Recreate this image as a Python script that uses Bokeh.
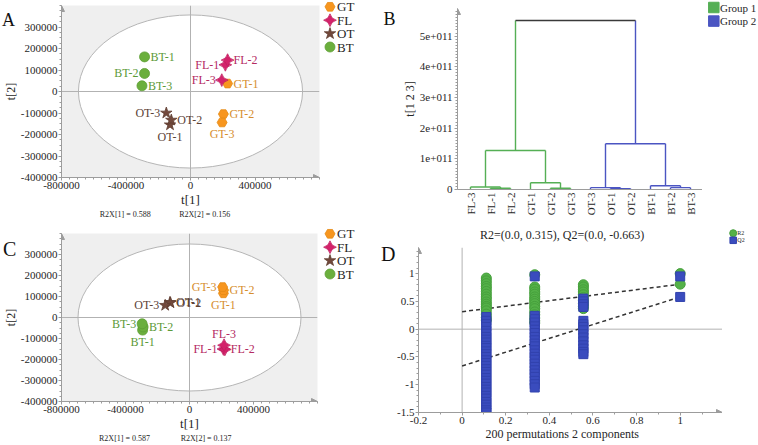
import math
from jinja2 import Template
from bokeh.plotting import figure
from bokeh.models import (Range1d, FixedTicker, Span, Arrow, NormalHead, LinearAxis,
                          CustomJSTickFormatter, ColumnDataSource)
from bokeh.core.properties import value
from bokeh.embed import file_html
from bokeh.resources import INLINE

SERIF = "Liberation Serif"
AXIS_GREY = "#9c9c9c"
ZERO_GREY = "#b2b2b2"
TEXT = "#262626"

# ---------------- PCA scores, t[1] / t[2] ----------------
groups = ["GT", "FL", "OT", "BT"]
replicates = ["1", "2", "3"]

# panel A
a_gt_t1 = [230000, 204000, 196000]
a_gt_t2 = [37000, -105000, -144000]
a_fl_t1 = [216000, 230000, 194000]
a_fl_t2 = [124000, 146000, 53000]
a_ot_t1 = [-127000, -119000, -150000]
a_ot_t2 = [-155000, -133000, -100000]
a_bt_t1 = [-285000, -285000, -301000]
a_bt_t2 = [161000, 84000, 26500]
a_r2x = [0.588, 0.156]
a_ellipse = [695000, 356000]   # Hotelling T2 (95%) semi-axes

# panel C
c_gt_t1 = [212000, 213000, 207000]
c_gt_t2 = [115000, 130000, 145000]
c_fl_t1 = [212000, 221000, 216000]
c_fl_t2 = [-150000, -152000, -132000]
c_ot_t1 = [-122000, -119000, -152000]
c_ot_t2 = [72000, 70000, 58000]
c_bt_t1 = [-293000, -290000, -296000]
c_bt_t2 = [-60000, -45000, -30000]
c_r2x = [0.587, 0.137]
c_ellipse = [697000, 350000]

# ---------------- hierarchical clustering (panel B) ----------------
cluster_1 = ["FL-3", "FL-1", "FL-2", "GT-1", "GT-2", "GT-3"]
cluster_2 = ["OT-3", "OT-1", "OT-2", "BT-1", "BT-2", "BT-3"]
# (left node, right node, linkage height, new node)
merges = [
    ("FL-1", "FL-2", 4.0e9, "fl12"),
    ("FL-3", "fl12", 8.0e9, "fl"),
    ("GT-2", "GT-3", 4.0e9, "gt23"),
    ("GT-1", "gt23", 2.2e10, "gt"),
    ("fl", "gt", 1.27e11, "g1"),
    ("OT-1", "OT-2", 3.0e9, "ot12"),
    ("OT-3", "ot12", 6.0e9, "ot"),
    ("BT-2", "BT-3", 6.0e9, "bt23"),
    ("BT-1", "bt23", 1.2e10, "bt"),
    ("ot", "bt", 1.49e11, "g2"),
    ("g1", "g2", 5.51e11, "root"),
]
cluster_names = ["Group 1", "Group 2"]

# ---------------- permutation test (panel D) ----------------
perm_x = [0.111, 0.333, 0.556]
r2_perm = [
    [0.92, 0.87, 0.82, 0.77, 0.73, 0.68, 0.63, 0.58, 0.54, 0.49, 0.45, 0.41, 0.38, 0.33, 0.27, 0.21, 0.16],
    [0.98, 0.76, 0.72, 0.67, 0.63, 0.58, 0.54, 0.5, 0.46, 0.41, 0.37, 0.31, 0.26, 0.2, 0.15, 0.11],
    [0.8, 0.76, 0.71, 0.67, 0.62, 0.57, 0.52, 0.46, 0.41, 0.37],
]
q2_perm = [
    [0.22, 0.15, 0.09, 0.04, -0.03, -0.08, -0.14, -0.19, -0.24, -0.3, -0.34, -0.4, -0.45, -0.5, -0.56,
     -0.61, -0.66, -0.72, -0.77, -0.82, -0.88, -0.93, -0.98, -1.04, -1.09, -1.14, -1.2, -1.25, -1.31,
     -1.36, -1.41, -1.46, -1.5],
    [0.95, 0.24, 0.18, 0.12, 0.05, -0.01, -0.07, -0.14, -0.2, -0.26, -0.31, -0.38, -0.44, -0.5, -0.55,
     -0.62, -0.68, -0.74, -0.8, -0.86, -0.93, -0.99, -1.05],
    [0.55, 0.5, 0.45, 0.4, 0.15, 0.09, 0.04, -0.02, -0.09, -0.15, -0.22, -0.29, -0.35, -0.41, -0.45],
]
model_x = 1.0
r2_model = [1.0, 0.81]
q2_model = [0.95, 0.58]
r2_intercept = 0.315
q2_intercept = -0.663
n_perm = 200
n_comp = 2

# ---------------- styles ----------------
MARKER = {"GT": "hex", "FL": "square_pin", "OT": "star", "BT": "circle"}
MSIZE = {"GT": 10, "FL": 9, "OT": 12, "BT": 10}
MANGLE = {"GT": 0.0, "FL": math.pi / 4, "OT": 0.0, "BT": 0.0}
FILL = {"GT": "#F7961F", "FL": "#D3226A", "OT": "#72493C", "BT": "#6BAF3D"}
EDGE = {"GT": "#E58A15", "FL": "#C01C5E", "OT": "#5F3D31", "BT": "#5E9E35"}
LABEL_COLOR = {"GT": "#D68E2E", "FL": "#B42A62", "OT": "#5B4236", "BT": "#5C9A38"}
SIDE = {"right": (6, 0, "left"), "left": (-6, 0, "right"),
        "below": (0, 12, "center"), "above": (0, -11, "center")}
a_sides = {"GT": ["right", "right", "below"], "FL": ["left", "right", "left"],
           "OT": ["below", "right", "left"], "BT": ["right", "left", "right"]}
c_sides = {"GT": ["below", "right", "left"], "FL": ["left", "right", "above"],
           "OT": ["right", "right", "left"], "BT": ["below", "right", "left"]}
GREEN_LINK = "#55AF55"
BLUE_LINK = "#4B55C2"
ROOT_LINK = "#3a3a3a"
R2_GREEN = "#54B148"
Q2_BLUE = "#3A4CBE"


def style_axis(ax, size="11px", tick_out=3, standoff=1):
    ax.axis_line_color = AXIS_GREY
    ax.major_tick_line_color = AXIS_GREY
    ax.minor_tick_line_color = AXIS_GREY
    ax.major_tick_in = 0
    ax.major_tick_out = tick_out
    ax.minor_tick_in = 0
    ax.minor_tick_out = 2
    ax.major_label_text_font = SERIF
    ax.major_label_text_font_size = size
    ax.major_label_text_color = TEXT
    ax.major_label_standoff = standoff
    ax.axis_label_text_font = SERIF
    ax.axis_label_text_font_style = "normal"
    ax.axis_label_text_color = TEXT
    ax.axis_label_standoff = 0


def text_axis(p, side, positions, texts, size, standoff=0):
    """An axis with no line or ticks whose labels carry free text at given positions."""
    ax = LinearAxis(ticker=FixedTicker(ticks=positions, minor_ticks=[]),
                    formatter=CustomJSTickFormatter(
                        args=dict(pos=positions, texts=texts),
                        code="const i = pos.indexOf(tick); return i < 0 ? '' : texts[i];"),
                    axis_line_color=None, major_tick_line_color=None, minor_tick_line_color=None,
                    major_tick_in=0, major_tick_out=0, minor_tick_in=0, minor_tick_out=0,
                    major_label_text_font=SERIF, major_label_text_font_size=f"{size}px",
                    major_label_text_color=TEXT, major_label_standoff=standoff)
    p.add_layout(ax, side)
    return ax


def make_fig(name, w, h, xr, yr, left=0, right=0, top=0, bottom=0, bg="white"):
    p = figure(name=name, width=w, height=h, x_range=Range1d(*xr), y_range=Range1d(*yr),
               output_backend="svg", toolbar_location=None,
               min_border_left=left, min_border_right=right,
               min_border_top=top, min_border_bottom=bottom)
    p.background_fill_color = bg
    p.border_fill_color = "white"
    p.outline_line_color = None
    p.grid.visible = False
    return p


def pixel_fig(name, w, h, transparent=False):
    """A bare canvas whose data units are pixels (origin top-left)."""
    p = make_fig(name, w, h, (0, w), (h, 0))
    p.xaxis.visible = False
    p.yaxis.visible = False
    if transparent:
        p.background_fill_color = None
        p.border_fill_color = None
    return p


def to_data(p, cx, cy):
    """Pixel position inside the figure (origin top-left) -> data coordinates."""
    xr, yr = p.x_range, p.y_range
    fw = p.width - p.min_border_left - p.min_border_right
    fh = p.height - p.min_border_top - p.min_border_bottom
    x = xr.start + (cx - p.min_border_left) / fw * (xr.end - xr.start)
    y = yr.end - (cy - p.min_border_top) / fh * (yr.end - yr.start)
    return x, y


def axis_arrows(p, up=True, right=True):
    xr, yr = p.x_range, p.y_range
    if up:
        p.add_layout(Arrow(end=NormalHead(size=6, fill_color=AXIS_GREY, line_color=AXIS_GREY),
                           x_start=xr.start, x_end=xr.start,
                           y_start=yr.end - 0.02 * (yr.end - yr.start), y_end=yr.end,
                           line_color=AXIS_GREY), "left")
    if right:
        p.add_layout(Arrow(end=NormalHead(size=6, fill_color=AXIS_GREY, line_color=AXIS_GREY),
                           y_start=yr.start, y_end=yr.start,
                           x_start=xr.end - 0.02 * (xr.end - xr.start), x_end=xr.end,
                           line_color=AXIS_GREY), "below")


def pca_panel(name, scores, sides, ellipse, r2x, h, left, fw, top, bottom, r2x_cx):
    p = make_fig(name, 322, h, (-800000, 800000), (-400000, 400000),
                 left, 322 - left - fw, top, bottom, bg="#EFEFEF")
    p.ellipse(x=[0], y=[0], width=[2 * ellipse[0]], height=[2 * ellipse[1]],
              fill_color="white", line_color="#B5B5B5", line_width=1, level="image")
    p.add_layout(Span(location=0, dimension="width", line_color=ZERO_GREY, level="underlay"))
    p.add_layout(Span(location=0, dimension="height", line_color=ZERO_GREY, level="underlay"))

    fmt = CustomJSTickFormatter(code="return tick.toFixed(0);")
    p.xaxis.ticker = FixedTicker(ticks=[-800000, -400000, 0, 400000],
                                 minor_ticks=[-800000 + 50000 * k for k in range(33)])
    p.yaxis.ticker = FixedTicker(ticks=[-400000 + 100000 * k for k in range(8)],
                                 minor_ticks=[-400000 + 25000 * k for k in range(33)])
    p.xaxis.formatter = fmt
    p.yaxis.formatter = fmt
    style_axis(p.xaxis[0])
    style_axis(p.yaxis[0])
    p.xaxis.axis_label = "t[1]"
    p.yaxis.axis_label = "t[2]"
    p.xaxis.axis_label_text_font_size = "13px"
    p.yaxis.axis_label_text_font_size = "12px"
    axis_arrows(p)

    # explained variance line under the t[1] label
    r2x_pos = [to_data(p, cx, 0)[0] for cx in r2x_cx]
    text_axis(p, "below", r2x_pos,
              [f"R2X[{i + 1}] = {v:.3f}" for i, v in enumerate(r2x)], 8)

    for g in groups:
        t1, t2 = scores[g]
        src = ColumnDataSource(dict(
            x=t1, y=t2, name=[f"{g}-{r}" for r in replicates],
            dx=[SIDE[s][0] for s in sides[g]], dy=[SIDE[s][1] for s in sides[g]],
            al=[SIDE[s][2] for s in sides[g]]))
        p.text(x="x", y="y", text="name", x_offset="dx", y_offset="dy", text_align="al",
               text_baseline="middle", text_font=value(SERIF), text_font_size="12px",
               text_color=LABEL_COLOR[g], source=src)
        p.scatter(x="x", y="y", marker=MARKER[g], size=MSIZE[g], angle=MANGLE[g],
                  fill_color=FILL[g], line_color=EDGE[g], line_width=0.8, source=src)
    return p


def pca_legend(name, h, y0):
    p = pixel_fig(name, 58, h)
    for i, g in enumerate(groups):
        y = y0 + 13.4 * i
        p.scatter(x=[7.5], y=[y], marker=MARKER[g], size=MSIZE[g], angle=MANGLE[g],
                  fill_color=FILL[g], line_color=EDGE[g], line_width=0.8)
        p.text(x=[14.5], y=[y], text=[g], text_baseline="middle", text_align="left",
               text_font=value(SERIF), text_font_size="13px", text_color=TEXT)
    return p


def panel_tag(name, letter, x, baseline, size):
    p = pixel_fig(name, 28, 44, transparent=True)
    p.text(x=[x], y=[baseline], text=[letter], text_align="left", text_baseline="alphabetic",
           text_font=value(SERIF), text_font_size=f"{size}px", text_color="#111111")
    return p


# ---------------- panel A ----------------
scores_a = {"GT": (a_gt_t1, a_gt_t2), "FL": (a_fl_t1, a_fl_t2),
            "OT": (a_ot_t1, a_ot_t2), "BT": (a_bt_t1, a_bt_t2)}
pa = pca_panel("panel_a", scores_a, a_sides, a_ellipse, a_r2x, 222, 56, 263, 5, 45, (121, 202))
la = pca_legend("legend_a", 222, 6.3)

# ---------------- panel C ----------------
scores_c = {"GT": (c_gt_t1, c_gt_t2), "FL": (c_fl_t1, c_fl_t2),
            "OT": (c_ot_t1, c_ot_t2), "BT": (c_bt_t1, c_bt_t2)}
pc = pca_panel("panel_c", scores_c, c_sides, c_ellipse, c_r2x, 223, 55, 262, 11, 41, (119.5, 203))
lc = pca_legend("legend_c", 223, 11.3)

# ---------------- panel B: dendrogram ----------------
leaf_order = cluster_1 + cluster_2
pb = make_fig("panel_b", 322, 222, (-0.65, 11.6), (0, 5.9e11), 77, 0, 8, 33)
node_x = {name: float(i) for i, name in enumerate(leaf_order)}
node_h = {name: 0.0 for name in leaf_order}
node_leaves = {name: {name} for name in leaf_order}


def node_color(n):
    lv = node_leaves[n]
    if lv <= set(cluster_1):
        return GREEN_LINK
    if lv <= set(cluster_2):
        return BLUE_LINK
    return ROOT_LINK


seg = dict(x0=[], y0=[], x1=[], y1=[], c=[])


def add_seg(x0, y0, x1, y1, c):
    seg["x0"].append(x0); seg["y0"].append(y0)
    seg["x1"].append(x1); seg["y1"].append(y1); seg["c"].append(c)


for a, b, h, n in merges:
    node_x[n] = (node_x[a] + node_x[b]) / 2
    node_h[n] = h
    node_leaves[n] = node_leaves[a] | node_leaves[b]
    add_seg(node_x[a], node_h[a], node_x[a], h, node_color(a))
    add_seg(node_x[b], node_h[b], node_x[b], h, node_color(b))
    add_seg(node_x[a], h, node_x[b], h, node_color(n))

pb.segment(x0="x0", y0="y0", x1="x1", y1="y1", line_color="c", line_width=1.4,
           source=ColumnDataSource(seg))

pb.xaxis.ticker = FixedTicker(ticks=list(range(len(leaf_order))), minor_ticks=[])
pb.xaxis.formatter = CustomJSTickFormatter(args=dict(names=leaf_order),
                                           code="return names[Math.round(tick)];")
pb.xaxis.major_label_orientation = math.pi / 2
pb.yaxis.ticker = FixedTicker(ticks=[k * 1e11 for k in range(6)],
                              minor_ticks=[k * 1e10 for k in range(59)])
pb.yaxis.formatter = CustomJSTickFormatter(
    code="return tick == 0 ? '0' : (tick / 1e11).toFixed(0) + 'e+011';")
style_axis(pb.xaxis[0])
style_axis(pb.yaxis[0], standoff=2)
pb.xaxis.major_tick_out = 0
pb.xaxis.major_label_standoff = 3
pb.yaxis.axis_label = "t[1 2 3]"
pb.yaxis.axis_label_text_font_size = "12px"
axis_arrows(pb, up=True, right=False)

lb = pixel_fig("legend_b", 56, 222)
for i, (nm, col) in enumerate(zip(cluster_names, [GREEN_LINK, BLUE_LINK])):
    y = 7.0 + 13.6 * i
    lb.scatter(x=[11.3], y=[y], marker="square", size=10.5, fill_color=col, line_color=col)
    lb.text(x=[17.5], y=[y], text=[nm], text_baseline="middle", text_align="left",
            text_font=value(SERIF), text_font_size="11px", text_color=TEXT)

# ---------------- panel D: permutation test ----------------
pd_ = make_fig("panel_d", 342, 223, (-0.2, 1.194), (-1.5, 1.47), 38, 0, 25, 33)
pd_.add_layout(Span(location=0, dimension="width", line_color=ZERO_GREY, level="underlay"))
pd_.add_layout(Span(location=0, dimension="height", line_color=ZERO_GREY, level="underlay"))

rx, ry, qx, qy = [], [], [], []
for x, rv, qv in zip(perm_x, r2_perm, q2_perm):
    rx += [x] * len(rv); ry += rv
    qx += [x] * len(qv); qy += qv
rx += [model_x] * len(r2_model); ry += r2_model
qx += [model_x] * len(q2_model); qy += q2_model

pd_.line(x=[0, model_x], y=[r2_intercept, r2_model[-1]], line_color="#333333",
         line_width=1.5, line_dash="4 3")
pd_.line(x=[0, model_x], y=[q2_intercept, q2_model[-1]], line_color="#333333",
         line_width=1.5, line_dash="4 3")
pd_.scatter(x=rx, y=ry, marker="circle", size=10, fill_color=R2_GREEN, line_color="#46A03C")
pd_.scatter(x=qx, y=qy, marker="square", size=9, fill_color=Q2_BLUE, line_color="#3142AE")

num_fmt = CustomJSTickFormatter(code="return String(Math.round(tick * 10) / 10);")
pd_.xaxis.ticker = FixedTicker(ticks=[-0.2 + 0.2 * k for k in range(7)],
                               minor_ticks=[-0.2 + 0.1 * k for k in range(14)])
pd_.yaxis.ticker = FixedTicker(ticks=[-1.5 + 0.5 * k for k in range(6)],
                               minor_ticks=[-1.5 + 0.1 * k for k in range(30)])
pd_.xaxis.formatter = num_fmt
pd_.yaxis.formatter = num_fmt
style_axis(pd_.xaxis[0])
style_axis(pd_.yaxis[0])
axis_arrows(pd_)
mid_x = to_data(pd_, 181.7, 0)[0]
text_axis(pd_, "above", [mid_x], [f"R2=(0.0, {r2_intercept}), Q2=(0.0, {q2_intercept})"], 12,
          standoff=6)
text_axis(pd_, "below", [mid_x], [f"{n_perm} permutations {n_comp} components"], 12, standoff=0)

ld = pixel_fig("legend_d", 36, 223)
ld.scatter(x=[10.7], y=[10.7], marker="circle", size=7, fill_color=R2_GREEN, line_color="#46A03C")
ld.scatter(x=[10.7], y=[17.8], marker="square", size=6.5, fill_color=Q2_BLUE, line_color="#3142AE")
ld.text(x=[14.8, 14.8], y=[10.7, 17.8], text=["R2", "Q2"], text_baseline="middle",
        text_align="left", text_font=value(SERIF), text_font_size="6px", text_color=TEXT)

# ---------------- panel letters ----------------
tag_a = panel_tag("tag_a", "A", 1.5, 19.5, 18)
tag_b = panel_tag("tag_b", "B", 3.0, 18.5, 18)
tag_c = panel_tag("tag_c", "C", 2.5, 26.3, 20)
tag_d = panel_tag("tag_d", "D", 0.5, 31.3, 20)

# ---------------- page: every figure pinned at its own place ----------------
# name -> (left, top, stacking order)
placement = {
    "panel_a": (0, 0, 1), "legend_a": (322, 0, 1), "panel_b": (380, 0, 1), "legend_b": (702, 0, 1),
    "panel_c": (0, 222, 1), "legend_c": (322, 222, 1), "panel_d": (380, 222, 1),
    "legend_d": (722, 222, 1),
    "tag_a": (0, 0, 5), "tag_b": (380, 0, 5), "tag_c": (0, 222, 5), "tag_d": (380, 222, 5),
}
figures = [pa, la, pb, lb, pc, lc, pd_, ld, tag_a, tag_b, tag_c, tag_d]

page = Template("""{% extends base %}
{% block contents %}
{% from macros import embed %}
{% for doc in docs %}{% for root in doc.roots %}
<div style="position:absolute; left:{{ placement[root.name][0] }}px; top:{{ placement[root.name][1] }}px; z-index:{{ placement[root.name][2] }};">
{{ embed(root) }}
</div>
{% endfor %}{% endfor %}
{% endblock %}
""")

open("out.html", "w").write(file_html(figures, INLINE, template=page,
                                      template_variables={"placement": placement}))
